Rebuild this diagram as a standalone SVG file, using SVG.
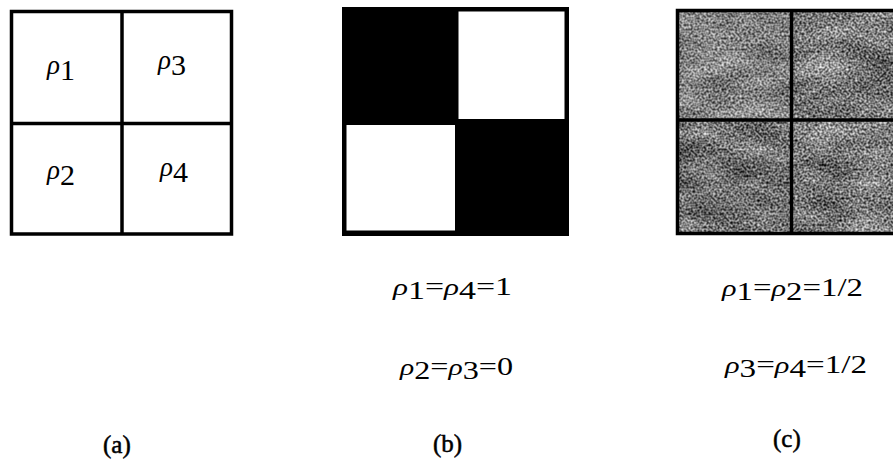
<svg xmlns="http://www.w3.org/2000/svg" width="893" height="461" viewBox="0 0 893 461">
  <style>
    text { font-family: "Liberation Serif", "Times New Roman", serif; fill: #000; }
    .cell { font-size: 30px; }
    .cell .rho { font-size: 27px; }
    .eq { font-size: 25px; }
    .eq .rho { font-size: 23px; }
    .cap { font-size: 25px; stroke: #000; stroke-width: 0.5; }
    .rho { font-style: italic; }
    .frame { fill: none; stroke: #000; stroke-width: 3.5; }
    .div { stroke: #000; stroke-width: 3.5; }
  </style>
  <defs>
    <!-- speckled halftone gray for the mixed-state grid -->
    <filter id="grain" x="0" y="0" width="1" height="1" color-interpolation-filters="sRGB">
      <feTurbulence type="fractalNoise" baseFrequency="0.45" numOctaves="1" seed="7" result="f0"/>
      <feColorMatrix in="f0" type="matrix" values="1 0 0 0 0  1 0 0 0 0  1 0 0 0 0  0 0 0 0 1" result="fine"/>
      <feTurbulence type="fractalNoise" baseFrequency="0.02 0.05" numOctaves="2" seed="2" result="c0"/>
      <feColorMatrix in="c0" type="matrix" values="1 0 0 0 0  1 0 0 0 0  1 0 0 0 0  0 0 0 0 1" result="coarse"/>
      <feComposite in="fine" in2="coarse" operator="arithmetic" k1="0" k2="0.9" k3="0.3" k4="-0.1" result="mix"/>
      <feColorMatrix in="mix" type="matrix" values="1.4 0 0 0 -0.23  1.4 0 0 0 -0.23  1.4 0 0 0 -0.23  0 0 0 0 1"/>
    </filter>
  </defs>

  <!-- (a) labelled 2x2 grid -->
  <g id="grid-a">
    <rect class="frame" x="11.5" y="11.5" width="220" height="222.5"/>
    <line class="div" x1="122" y1="11.5" x2="122" y2="234"/>
    <line class="div" x1="11.5" y1="123.5" x2="231.5" y2="123.5"/>
    <text class="cell" x="47" y="74"><tspan class="rho">ρ</tspan><tspan dy="6">1</tspan></text>
    <text class="cell" x="158" y="69"><tspan class="rho">ρ</tspan><tspan dy="6">3</tspan></text>
    <text class="cell" x="47" y="179"><tspan class="rho">ρ</tspan><tspan dy="6">2</tspan></text>
    <text class="cell" x="160" y="176"><tspan class="rho">ρ</tspan><tspan dy="6">4</tspan></text>
  </g>

  <!-- (b) checkerboard pure state -->
  <g id="grid-b">
    <rect x="342" y="7" width="227" height="229" fill="#000"/>
    <rect x="458.5" y="11.5" width="106" height="107.5" fill="#fff"/>
    <rect x="346.5" y="125" width="108.5" height="105.5" fill="#fff"/>
  </g>

  <!-- (c) uniform gray mixed state -->
  <g id="grid-c">
    <rect x="676" y="9" width="220" height="225" fill="#808080" filter="url(#grain)"/>
    <rect x="677" y="10" width="114" height="110" fill="#fff" opacity="0.1"/>
    <rect x="677" y="150" width="114" height="70" fill="#000" opacity="0.08"/>
    <rect class="frame" x="677.5" y="10.5" width="220" height="223"/>
    <line class="div" x1="791.5" y1="10.5" x2="791.5" y2="233.5"/>
    <line class="div" x1="677.5" y1="120" x2="893" y2="120"/>
  </g>

  <!-- state values -->
  <g id="values-b">
    <text class="eq" x="393" y="295" textLength="119" lengthAdjust="spacingAndGlyphs"><tspan class="rho">ρ</tspan><tspan dy="4">1</tspan><tspan dy="-4">=</tspan><tspan class="rho">ρ</tspan><tspan dy="4">4</tspan><tspan dy="-4">=1</tspan></text>
    <text class="eq" x="400" y="375" textLength="113" lengthAdjust="spacingAndGlyphs"><tspan class="rho">ρ</tspan><tspan dy="4">2</tspan><tspan dy="-4">=</tspan><tspan class="rho">ρ</tspan><tspan dy="4">3</tspan><tspan dy="-4">=0</tspan></text>
  </g>
  <g id="values-c">
    <text class="eq" x="722" y="296" textLength="141" lengthAdjust="spacingAndGlyphs"><tspan class="rho">ρ</tspan><tspan dy="4">1</tspan><tspan dy="-4">=</tspan><tspan class="rho">ρ</tspan><tspan dy="4">2</tspan><tspan dy="-4">=1/2</tspan></text>
    <text class="eq" x="725" y="373" textLength="142" lengthAdjust="spacingAndGlyphs"><tspan class="rho">ρ</tspan><tspan dy="4">3</tspan><tspan dy="-4">=</tspan><tspan class="rho">ρ</tspan><tspan dy="4">4</tspan><tspan dy="-4">=1/2</tspan></text>
  </g>

  <!-- captions -->
  <g id="captions">
    <text class="cap" x="103" y="453">(a)</text>
    <text class="cap" x="433" y="452">(b)</text>
    <text class="cap" x="773" y="447">(c)</text>
  </g>
</svg>
